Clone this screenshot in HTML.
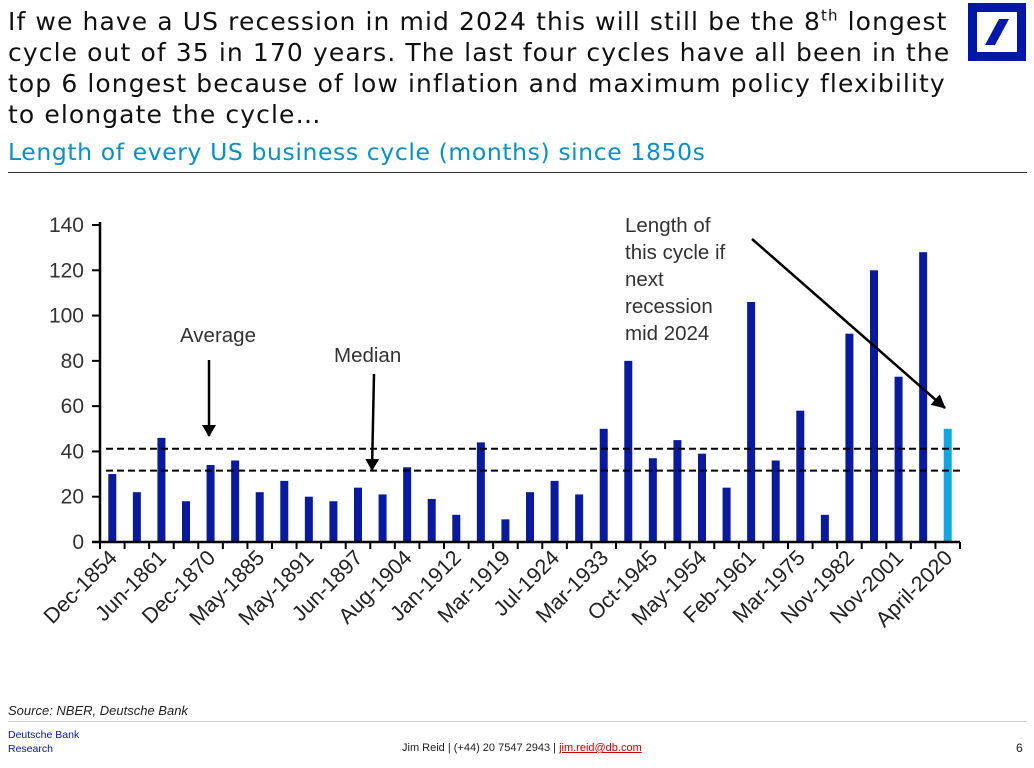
<!DOCTYPE html>
<html><head><meta charset="utf-8"><style>
body{margin:0;width:1034px;height:768px;background:#fff;font-family:"Liberation Sans",sans-serif;position:relative;overflow:hidden}
.t{position:absolute;left:8px;top:6px;font-family:"DejaVu Sans",sans-serif;font-size:25px;letter-spacing:1.1px;line-height:31px;color:#111;white-space:nowrap}
.s{position:absolute;left:8px;top:138px;font-family:"DejaVu Sans",sans-serif;font-size:23.5px;letter-spacing:0.6px;color:#0a8fc7;white-space:nowrap}
</style></head><body>
<div class="t">If we have a US recession in mid 2024 this will still be the 8<sup style="font-size:15px;line-height:0">th</sup> longest<br>cycle out of 35 in 170 years. The last four cycles have all been in the<br>top 6 longest because of low inflation and maximum policy flexibility<br>to elongate the cycle…</div>
<div class="s">Length of every US business cycle (months) since 1850s</div>
<div style="position:absolute;left:8px;top:172px;width:1019px;height:1px;background:#333"></div>
<svg style="position:absolute;left:968px;top:3px" width="58" height="58"><rect x="4.5" y="4.5" width="49" height="49" fill="none" stroke="#0018a8" stroke-width="9"/><polygon points="31,16 41,16 27,42 17,42" fill="#0018a8"/></svg>
<svg id="chart" style="position:absolute;left:0;top:0" width="1034" height="700"></svg>
<div style="position:absolute;left:8px;top:703px;font-size:13px;font-style:italic;color:#222">Source: NBER, Deutsche Bank</div>
<div style="position:absolute;left:8px;top:721px;width:1019px;height:1px;background:#ccc"></div>
<div style="position:absolute;left:8px;top:728px;font-size:10.5px;line-height:14px;color:#0018a8">Deutsche Bank<br>Research</div>
<div style="position:absolute;left:402px;top:742px;font-size:11px;color:#222">Jim Reid | (+44) 20 7547 2943 | <span style="color:#c00;text-decoration:underline">jim.reid@db.com</span></div>
<div style="position:absolute;left:1016px;top:741px;font-size:12px;color:#222">6</div>
<script>
const values=[30,22,46,18,34,36,22,27,20,18,24,21,33,19,12,44,10,22,27,21,50,80,37,45,39,24,106,36,58,12,92,120,73,128,50];
const labels=["Dec-1854","Jun-1861","Dec-1870","May-1885","May-1891","Jun-1897","Aug-1904","Jan-1912","Mar-1919","Jul-1924","Mar-1933","Oct-1945","May-1954","Feb-1961","Mar-1975","Nov-1982","Nov-2001","April-2020"];
const yTicks=[0,20,40,60,80,100,120,140];
const averageVal=41.2, medianVal=31.5;
const svg=document.getElementById('chart');const NS='http://www.w3.org/2000/svg';
const x0=100,x1=960,y0=542,yTop=225,ymax=140;
const step=(x1-x0)/values.length;
const X=i=>x0+step*(i+0.5), Y=v=>y0-(v/ymax)*(y0-yTop);
function mk(t,a,p){const e=document.createElementNS(NS,t);for(const k in a)e.setAttribute(k,a[k]);(p||svg).appendChild(e);return e;}
const defs=mk('defs',{});const m=mk('marker',{id:'ah',markerWidth:12,markerHeight:14,refX:11,refY:7,orient:'auto',markerUnits:'userSpaceOnUse'},defs);mk('path',{d:'M0,0 L12,7 L0,14 z',fill:'#000'},m);
const m2=mk('marker',{id:'ah2',markerWidth:14,markerHeight:14,refX:13,refY:7,orient:'auto',markerUnits:'userSpaceOnUse'},defs);mk('path',{d:'M0,0 L14,7 L0,14 z',fill:'#000'},m2);
values.forEach((v,i)=>{const r=mk('rect',{x:X(i)-4,y:Y(v),width:8,height:y0-Y(v),fill:i===values.length-1?'#12a5e0':'#0a1a9c'});
});
[averageVal,medianVal].forEach((v,k)=>{const l=mk('line',{x1:x0+6,x2:x1,y1:Y(v),y2:Y(v),stroke:'#000','stroke-width':2,'stroke-dasharray':'7,4'});
});
mk('line',{x1:x0,x2:x0,y1:yTop-3,y2:y0,stroke:'#000','stroke-width':2.5});
mk('line',{x1:x0-8,x2:x1,y1:y0,y2:y0,stroke:'#000','stroke-width':2.5});
yTicks.forEach(t=>{mk('line',{x1:x0-8,x2:x0,y1:Y(t),y2:Y(t),stroke:'#000','stroke-width':2});
const tx=mk('text',{x:x0-16,y:Y(t)+7,'text-anchor':'end','font-size':21,fill:'#333'});tx.textContent=t;
});
for(let i=0;i<=values.length;i++)mk('line',{x1:x0+step*i,x2:x0+step*i,y1:y0,y2:y0+7,stroke:'#000','stroke-width':2});
labels.forEach((l,k)=>{const i=k*2;const tx=mk('text',{x:X(i)+6,y:y0+17,'text-anchor':'end','font-size':21.5,fill:'#222',transform:`rotate(-45 ${X(i)+6} ${y0+17})`});tx.textContent=l;
});
function txt(s,x,y,n){const t=mk('text',{x,y,'font-size':20.5,fill:'#333'});t.textContent=s;}
txt('Average',180,342,'average-annotation');
mk('line',{x1:209,y1:360,x2:209,y2:436,stroke:'#000','stroke-width':2.5,'marker-end':'url(#ah)'});
txt('Median',334,362,'median-annotation');
mk('line',{x1:374,y1:374,x2:372,y2:470,stroke:'#000','stroke-width':2.5,'marker-end':'url(#ah)'});
['Length of','this cycle if','next','recession','mid 2024'].forEach((s,i)=>txt(s,625,232+i*27,'cycle-annotation'));
mk('line',{x1:752,y1:239,x2:945,y2:408,stroke:'#000','stroke-width':2.5,'marker-end':'url(#ah2)'});
</script>
</body></html>
